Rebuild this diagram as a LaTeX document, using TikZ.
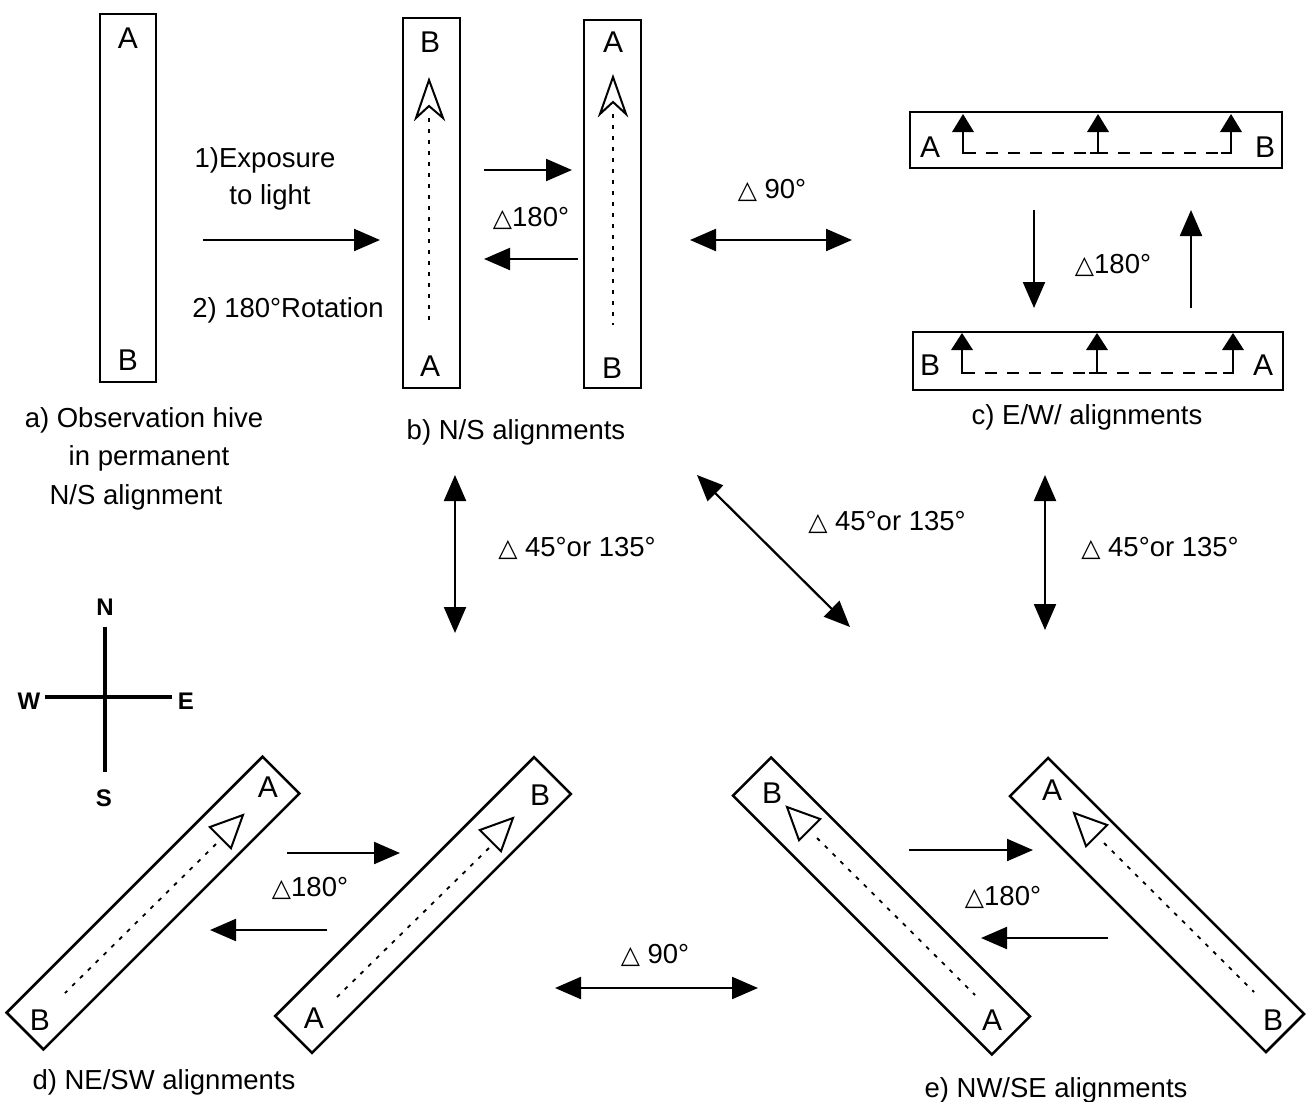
\documentclass[tikz,border=0pt]{standalone}
\usepackage{fontspec}
\setmainfont{Liberation Sans}
\newfontfamily\symfont{DejaVu Sans}
\usetikzlibrary{arrows.meta}
\newcommand\dlt{{\fontsize{25}{25}\selectfont\symfont △}}
\begin{document}
\begin{tikzpicture}[x=1pt,y=1pt,
 hive/.style={draw, line width=2.5pt, inner sep=0pt},
 hl/.style={font=\fontsize{30}{30}\selectfont, inner sep=0pt},
 lab/.style={font=\fontsize{27.5}{30}\selectfont, inner sep=0pt},
 conn/.style={line width=2.2pt, -{Triangle[length=26pt,width=22pt]}},
 dconn/.style={line width=2.2pt, {Triangle[length=26pt,width=22pt]}-{Triangle[length=26pt,width=22pt]}},
 dots/.style={line width=1.8pt, dash pattern=on 4pt off 7pt},
 cdash/.style={line width=2pt, dash pattern=on 12pt off 10pt},
 openhead/.style={line width=2pt, line join=miter},
 stem/.style={line width=2.8pt},
 cmp/.style={line width=4.5pt},
 cmpl/.style={font=\bfseries\fontsize{24}{24}\selectfont, inner sep=0pt}
]
\useasboundingbox (0,0) rectangle (1308,-1101);

% ---------- a) ----------
\node[hive, minimum width=56pt, minimum height=368pt] (ha) at (128,-198) {};
\node[hl] (haA) at (128,-38) {A};
\node[hl] (haB) at (128,-360) {B};
\node[lab] (t1) at (265,-160) {1)Exposure};
\node[lab] (t2) at (270,-197) {to light};
\node[lab] (t3) at (288,-310) {2) 180°Rotation};
\coordinate (a1) at (203,-240); \coordinate (a2) at (380,-240);
\draw[conn] (a1) -- (a2);
\node[lab] (la1) at (144,-420) {a) Observation hive};
\node[lab] (la2) at (149,-458) {in permanent};
\node[lab] (la3) at (136,-497) {N/S alignment};

% ---------- b) ----------
\node[hive, minimum width=57pt, minimum height=370pt] (hb1) at (431.5,-203) {};
\node[hl] (hb1B) at (430,-42) {B};
\node[hl] (hb1A) at (430,-366) {A};
\draw[openhead] (429,-80) -- (443,-118) -- (429,-106) -- (416,-118) -- cycle;
\draw[dots] (429,-118) -- (429,-325);
\node[hive, minimum width=57pt, minimum height=368pt] (hb2) at (612.5,-204) {};
\node[hl] (hb2A) at (613,-42) {A};
\node[hl] (hb2B) at (612,-368) {B};
\draw[openhead] (613,-77) -- (626,-114) -- (613,-102) -- (600,-114) -- cycle;
\draw[dots] (613,-114) -- (613,-325);
\coordinate (b1) at (484,-170); \coordinate (b2) at (572,-170);
\draw[conn] (b1) -- (b2);
\coordinate (b3) at (578,-259); \coordinate (b4) at (484,-259);
\draw[conn] (b3) -- (b4);
\node[lab] (lb) at (531,-218) {\dlt180°};
\node[lab] (lbl) at (516,-432) {b) N/S alignments};

% b <-> c
\coordinate (bc1) at (690,-240); \coordinate (bc2) at (852,-240);
\draw[dconn] (bc1) -- (bc2);
\node[lab] (lbc) at (772,-190) {\dlt\ 90°};

% ---------- c) ----------
\node[hive, minimum width=372pt, minimum height=56pt] (hc1) at (1096,-140) {};
\node[hl] (hc1A) at (930,-147) {A};
\node[hl] (hc1B) at (1265,-147) {B};
\foreach \x in {963,1098,1231}{
  \fill (\x,-114) -- (\x+11,-132) -- (\x-11,-132) -- cycle;
  \draw[stem] (\x,-130) -- (\x,-153);
}
\draw[stem] (962,-153) -- (976,-153);
\draw[stem] (1090,-153) -- (1106,-153);
\draw[stem] (1221,-153) -- (1232,-153);
\draw[cdash] (986,-153) -- (1220,-153);

\node[hive, minimum width=370pt, minimum height=58pt] (hc2) at (1098,-361) {};
\node[hl] (hc2B) at (930,-365) {B};
\node[hl] (hc2A) at (1263,-365) {A};
\foreach \x in {962,1097,1233}{
  \fill (\x,-333) -- (\x+11,-350) -- (\x-11,-350) -- cycle;
  \draw[stem] (\x,-348) -- (\x,-373);
}
\draw[stem] (961,-373) -- (975,-373);
\draw[stem] (1089,-373) -- (1105,-373);
\draw[stem] (1223,-373) -- (1234,-373);
\draw[cdash] (985,-373) -- (1222,-373);

\coordinate (c1) at (1034,-210); \coordinate (c2) at (1034,-308);
\draw[conn] (c1) -- (c2);
\coordinate (c3) at (1191,-308); \coordinate (c4) at (1191,-210);
\draw[conn] (c3) -- (c4);
\node[lab] (lc) at (1113,-265) {\dlt180°};
\node[lab] (lcl) at (1087,-417) {c) E/W/ alignments};

% ---------- 45/135 connectors ----------
\coordinate (v1) at (455,-475); \coordinate (v2) at (455,-633);
\draw[dconn] (v1) -- (v2);
\node[lab] (lv1) at (577,-548) {\dlt\ 45°or 135°};
\coordinate (g1) at (697,-475); \coordinate (g2) at (850,-627);
\draw[dconn] (g1) -- (g2);
\node[lab] (lg) at (887,-522) {\dlt\ 45°or 135°};
\coordinate (w1) at (1045,-475); \coordinate (w2) at (1045,-630);
\draw[dconn] (w1) -- (w2);
\node[lab] (lw) at (1160,-548) {\dlt\ 45°or 135°};

% ---------- compass ----------
\coordinate (cn) at (105,-627); \coordinate (cs) at (105,-772);
\coordinate (cw) at (45,-697); \coordinate (ce) at (172,-697);
\draw[cmp] (cn) -- (cs);
\draw[cmp] (cw) -- (ce);
\node[cmpl] (N) at (105,-607) {N};
\node[cmpl] (W) at (29,-701) {W};
\node[cmpl] (E) at (186,-701) {E};
\node[cmpl] (S) at (104,-798) {S};

% ---------- d) ----------
\node[hive, minimum width=362pt, minimum height=52pt, rotate=45] (hd1) at (153,-903) {};
\node[hl] (hd1A) at (268,-787) {A};
\node[hl] (hd1B) at (40,-1020) {B};
\draw[openhead, shift={(243,-815)}, rotate=45] (0,0) -- (-32,15) -- (-32,-15) -- cycle;
\draw[dots] (216,-844) -- (65,-993);
\node[hive, minimum width=366pt, minimum height=52pt, rotate=45] (hd2) at (423,-905) {};
\node[hl] (hd2B) at (540,-795) {B};
\node[hl] (hd2A) at (314,-1018) {A};
\draw[openhead, shift={(513,-818)}, rotate=45] (0,0) -- (-32,15) -- (-32,-15) -- cycle;
\draw[dots] (489,-848) -- (337,-997);
\coordinate (d1) at (287,-853); \coordinate (d2) at (400,-853);
\draw[conn] (d1) -- (d2);
\coordinate (d3) at (327,-930); \coordinate (d4) at (210,-930);
\draw[conn] (d3) -- (d4);
\node[lab] (ld) at (310,-888) {\dlt180°};
\node[lab] (ldl) at (164,-1082) {d) NE/SW alignments};

% d <-> e
\coordinate (de1) at (555,-988); \coordinate (de2) at (758,-988);
\draw[dconn] (de1) -- (de2);
\node[lab] (lde) at (655,-955) {\dlt\ 90°};

% ---------- e) ----------
\node[hive, minimum width=366pt, minimum height=54pt, rotate=-45] (he1) at (881.5,-906) {};
\node[hl] (he1B) at (772,-793) {B};
\node[hl] (he1A) at (992,-1020) {A};
\draw[openhead, shift={(787,-807)}, rotate=135] (0,0) -- (-32,15) -- (-32,-15) -- cycle;
\draw[dots] (817,-838) -- (975,-995);
\node[hive, minimum width=362pt, minimum height=54pt, rotate=-45] (he2) at (1157,-905) {};
\node[hl] (he2A) at (1052,-790) {A};
\node[hl] (he2B) at (1273,-1020) {B};
\draw[openhead, shift={(1074,-813)}, rotate=135] (0,0) -- (-32,15) -- (-32,-15) -- cycle;
\draw[dots] (1104,-843) -- (1254,-992);
\coordinate (e1) at (909,-850); \coordinate (e2) at (1033,-850);
\draw[conn] (e1) -- (e2);
\coordinate (e3) at (1108,-938); \coordinate (e4) at (981,-938);
\draw[conn] (e3) -- (e4);
\node[lab] (le) at (1003,-897) {\dlt180°};
\node[lab] (lel) at (1056,-1090) {e) NW/SE alignments};
\end{tikzpicture}
\end{document}
